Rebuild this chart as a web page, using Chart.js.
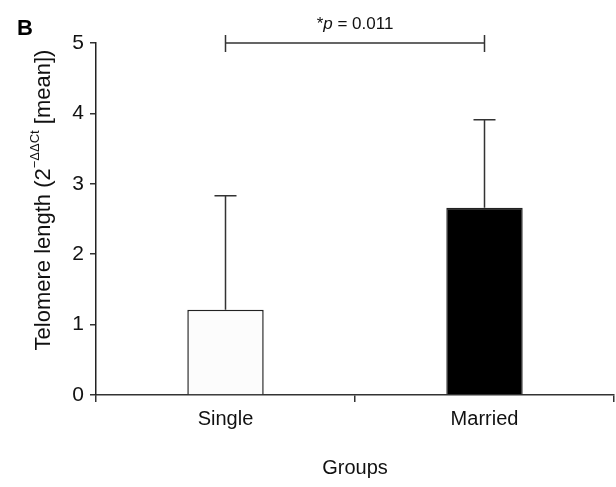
<!DOCTYPE html>
<html>
<head>
<meta charset="utf-8">
<script src="https://cdn.jsdelivr.net/npm/chart.js@4"></script>
<style>
  html, body { margin: 0; padding: 0; background: #fff; }
  #wrap { width: 616px; height: 487px; position: relative; }
</style>
</head>
<body>
<div id="wrap"><canvas id="chart" width="616" height="487"></canvas></div>
<script>
// Datos del gráfico
const groups = ["Single", "Married"];
const meanValues = [1.21, 2.66];
const errorUpper = [2.83, 3.91];
const barColors = ["#fcfcfc", "#000000"];
const yTicks = [0, 1, 2, 3, 4, 5];

const FONT = "'Liberation Sans', Arial, sans-serif";

// Barras de error (solo hacia arriba)
const errorBarsPlugin = {
    id: "errorBars",
    afterDatasetsDraw(chart) {
        const ctx = chart.ctx;
        const x = chart.scales.x;
        const y = chart.scales.y;
        ctx.save();
        ctx.strokeStyle = "#333";
        ctx.lineWidth = 1.5;
        errorUpper.forEach((v, i) => {
            const cx = x.getPixelForValue(i);
            const top = y.getPixelForValue(v);
            const base = y.getPixelForValue(meanValues[i]);
            ctx.beginPath();
            ctx.moveTo(cx, base);
            ctx.lineTo(cx, top);
            ctx.moveTo(cx - 11, top);
            ctx.lineTo(cx + 11, top);
            ctx.stroke();
        });
        ctx.restore();
    }
};

// Corchete de significancia, letra del panel y título del eje Y
const annotationsPlugin = {
    id: "annotations",
    afterDraw(chart) {
        const ctx = chart.ctx;
        const x = chart.scales.x;
        const y = chart.scales.y;
        const x1 = x.getPixelForValue(0);
        const x2 = x.getPixelForValue(1);
        const yb = y.getPixelForValue(5);
        ctx.save();
        ctx.strokeStyle = "#333";
        ctx.lineWidth = 1.5;
        ctx.beginPath();
        ctx.moveTo(x1, yb);
        ctx.lineTo(x2, yb);
        ctx.moveTo(x1, yb - 8);
        ctx.lineTo(x1, yb + 9);
        ctx.moveTo(x2, yb - 8);
        ctx.lineTo(x2, yb + 9);
        ctx.stroke();

        // "*p = 0.011"
        ctx.fillStyle = "#111";
        ctx.textBaseline = "alphabetic";
        ctx.font = "italic 17px " + FONT;
        const pW = ctx.measureText("p").width;
        ctx.font = "17px " + FONT;
        const starW = ctx.measureText("*").width;
        const restW = ctx.measureText(" = 0.011").width;
        let tx = (x1 + x2) / 2 - (starW + pW + restW) / 2;
        const ty = yb - 14;
        ctx.fillText("*", tx, ty);
        tx += starW;
        ctx.font = "italic 17px " + FONT;
        ctx.fillText("p", tx, ty);
        tx += pW;
        ctx.font = "17px " + FONT;
        ctx.fillText(" = 0.011", tx, ty);

        // Letra del panel
        ctx.font = "bold 22px " + FONT;
        ctx.fillStyle = "#000";
        ctx.fillText("B", 17, 35);

        // Título del eje Y con superíndice
        const parts = [
            { t: "Telomere length (2", f: "22px " + FONT, dy: 0 },
            { t: "\u2212\u0394\u0394Ct", f: "13px " + FONT, dy: -11 },
            { t: " [mean])", f: "22px " + FONT, dy: 0 }
        ];
        let total = 0;
        parts.forEach(p => { ctx.font = p.f; p.w = ctx.measureText(p.t).width; total += p.w; });
        ctx.translate(50, 200);
        ctx.rotate(-Math.PI / 2);
        let px = -total / 2;
        ctx.fillStyle = "#111";
        parts.forEach(p => {
            ctx.font = p.f;
            ctx.fillText(p.t, px, p.dy);
            px += p.w;
        });
        ctx.restore();
    }
};

let chart;

function createChart() {
    const ctx = document.getElementById("chart").getContext("2d");
    chart = new Chart(ctx, {
        type: "bar",
        data: {
            labels: groups,
            datasets: [{
                data: meanValues,
                backgroundColor: barColors,
                borderColor: "#222",
                borderWidth: 1.5,
                categoryPercentage: 1,
                barPercentage: 0.295
            }]
        },
        options: {
            responsive: false,
            animation: false,
            devicePixelRatio: 1,
            layout: { padding: { top: 43, right: 2, left: 0, bottom: 0 } },
            plugins: {
                legend: { display: false },
                tooltip: { enabled: false }
            },
            scales: {
                x: {
                    offset: true,
                    grid: {
                        offset: true,
                        drawOnChartArea: false,
                        drawTicks: true,
                        tickLength: 7,
                        color: "#333",
                        lineWidth: 1.5
                    },
                    border: { color: "#333", width: 1.5 },
                    ticks: {
                        color: "#111",
                        font: { family: FONT, size: 20 },
                        padding: 5
                    },
                    title: {
                        display: true,
                        text: "Groups",
                        color: "#111",
                        font: { family: FONT, size: 20 },
                        padding: { top: 4, bottom: 7 }
                    },
                    afterFit(scale) { scale.height = 92; }
                },
                y: {
                    min: 0,
                    max: 5,
                    afterBuildTicks(scale) { scale.ticks = yTicks.map(v => ({ value: v })); },
                    grid: {
                        drawOnChartArea: false,
                        drawTicks: true,
                        tickLength: 6,
                        color: "#333",
                        lineWidth: 1.5
                    },
                    border: { color: "#222", width: 1.5 },
                    ticks: {
                        color: "#111",
                        font: { family: FONT, size: 21 },
                        padding: 6
                    },
                    afterFit(scale) { scale.width = 96; }
                }
            }
        },
        plugins: [errorBarsPlugin, annotationsPlugin]
    });
}

document.addEventListener("DOMContentLoaded", createChart);
</script>
</body>
</html>
